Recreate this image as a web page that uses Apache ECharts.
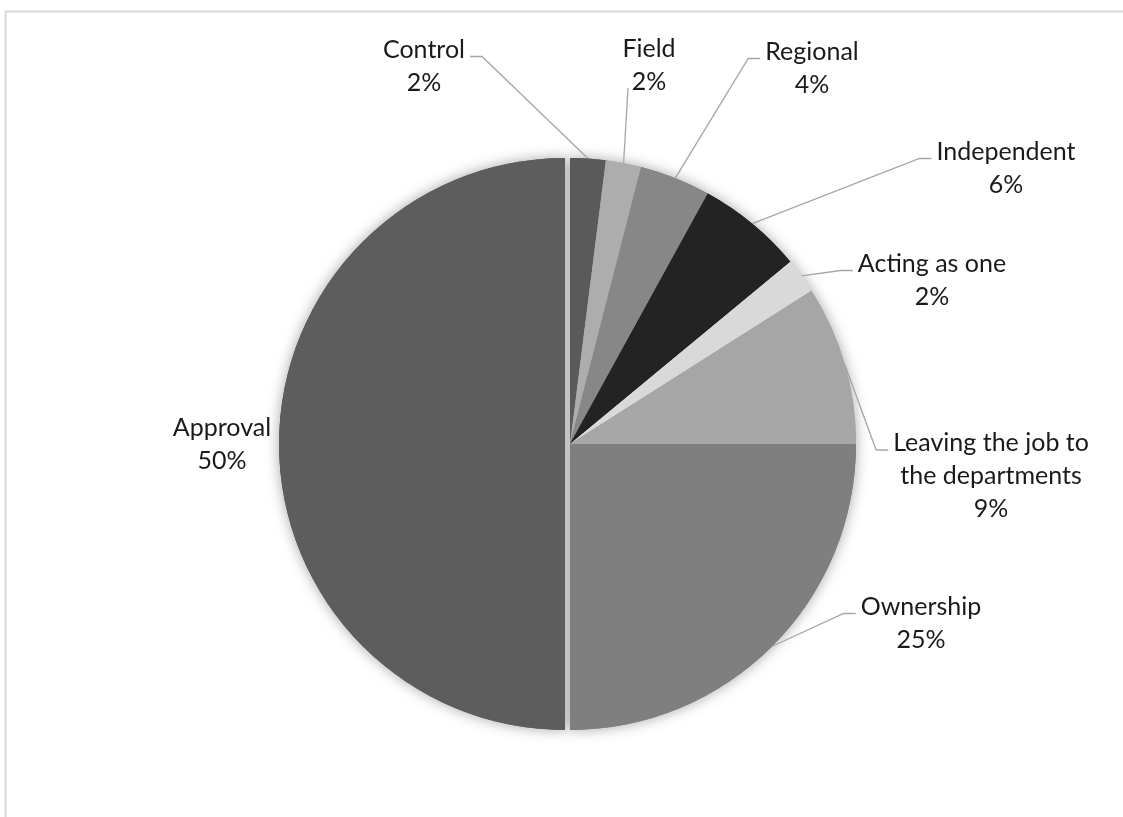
<!DOCTYPE html>
<html><head><meta charset="utf-8">
<script src="https://cdn.jsdelivr.net/npm/echarts@6/dist/echarts.min.js"></script>
<style>html,body{margin:0;padding:0;background:#fff}#c{width:1123px;height:817px}</style>
</head><body><div id="c"></div>
<script>
const categories = ['Control', 'Field', 'Regional', 'Independent', 'Acting as one', 'Leaving the job to\nthe departments', 'Ownership', 'Approval'];
const values = [2, 2, 4, 6, 2, 9, 25, 50];
const palette = ['#5a5a5a', '#adadad', '#878787', '#232323', '#d9d9d9', '#a6a6a6', '#7f7f7f', '#5d5d5d'];

const chart = echarts.init(document.getElementById('c'), null, {renderer: 'canvas'});
const CX = 570, CY = 444, LH = 33;

// label block centres and leader attachment side (Excel-style manual placement)
const labelPlacement = [
  { x: 424, y: 66, side: 'right' },
  { x: 649, y: 65, side: 'bottom' },
  { x: 812, y: 68, side: 'left' },
  { x: 1006, y: 168, side: 'left' },
  { x: 932, y: 280, side: 'left' },
  { x: 991, y: 476, side: 'left' },
  { x: 921, y: 623, side: 'left' },
  { x: 211, y: 446, side: 'none' }
];

function makeData(withLabels) {
  return categories.map((name, i) => {
    const item = { name: name, value: values[i], itemStyle: { color: palette[i] } };
    if (i === categories.length - 1) {
      item.selected = true;
      if (withLabels) item.labelLine = { show: false };
    }
    return item;
  });
}

const common = {
  type: 'pie',
  center: [CX, CY],
  radius: 286,
  startAngle: 90,
  clockwise: true,
  selectedMode: 'single',
  selectedOffset: 5,
  avoidLabelOverlap: false,
  animation: false,
  emphasis: { disabled: true },
  select: { itemStyle: { borderWidth: 0 } }
};

const option = {
  backgroundColor: '#ffffff',
  graphic: [{
    type: 'rect', left: 3, top: 9, z: -10,
    shape: { width: 1200, height: 900 },
    style: { fill: 'none', stroke: '#d9d9d9', lineWidth: 2 }
  }],
  series: [
    Object.assign({}, common, {
      silent: true, z: 1,
      label: { show: false }, labelLine: { show: false },
      itemStyle: { shadowBlur: 14, shadowColor: 'rgba(0,0,0,0.35)' },
      data: makeData(false)
    }),
    Object.assign({}, common, {
      z: 2,
      label: {
        show: true, position: 'outside',
        formatter: '{b}\n{d}%',
        fontFamily: 'Lato', fontSize: 25, lineHeight: LH, color: '#1a1a1a'
      },
      labelLine: { show: true, length: 40, length2: 12, lineStyle: { color: '#a6a6a6', width: 1.3 } },
      labelLayout: function (p) {
        const pl = labelPlacement[p.dataIndex];
        const w = p.labelRect.width, h = p.labelRect.height;
        const res = { x: pl.x, y: pl.y, align: 'center', verticalAlign: 'middle' };
        const pts = p.labelLinePoints;
        if (!pts || pl.side === 'none') return res;
        const edge = pts[0];
        const top = pl.y - h / 2;
        const attachY = top + LH / 2 + 7;
        if (pl.side === 'left') {
          const ax = pl.x - w / 2 - 5;
          res.labelLinePoints = [edge, [ax - 12, attachY], [ax, attachY]];
        } else if (pl.side === 'right') {
          const ax = pl.x + w / 2 + 5;
          res.labelLinePoints = [edge, [ax + 12, attachY], [ax, attachY]];
        } else {
          const bx = pl.x - 21, by = pl.y + h / 2 - 10;
          res.labelLinePoints = [edge, [bx, by], [bx, by]];
        }
        return res;
      },
      data: makeData(true)
    })
  ]
};
chart.setOption(option);
</script></body></html>
